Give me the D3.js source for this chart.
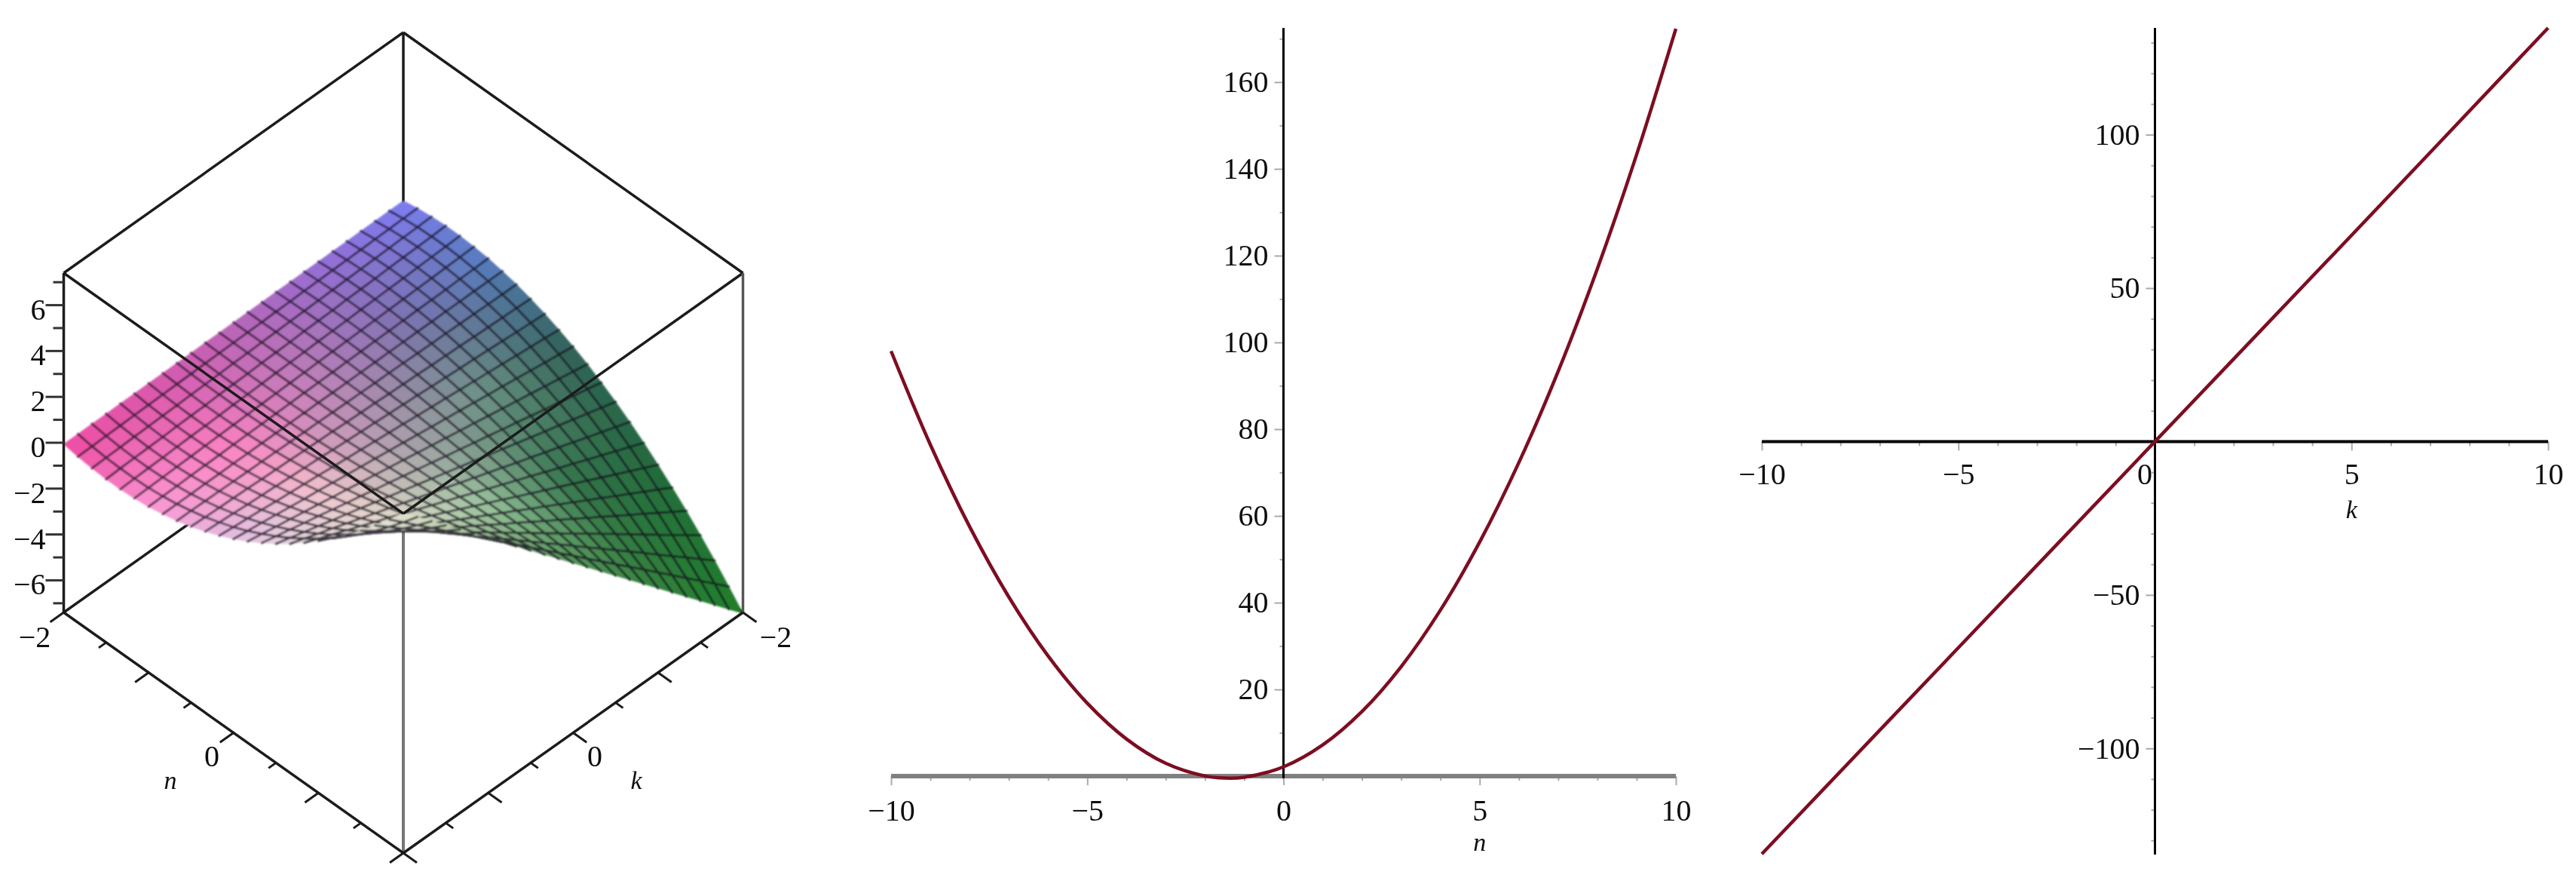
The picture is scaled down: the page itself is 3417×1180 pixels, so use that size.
<!DOCTYPE html>
<html><head><meta charset="utf-8">
<script src="https://cdnjs.cloudflare.com/ajax/libs/d3/7.8.5/d3.min.js"></script>
<style>html,body{margin:0;padding:0;background:#fff}svg{display:block}
text{font-family:"Liberation Serif","Times New Roman",serif;fill:#111}</style>
</head><body><svg id="c" width="3417" height="1180"></svg>
<script>
// ---------- data ----------
const meshN = [-2,-1.833,-1.667,-1.5,-1.333,-1.167,-1,-0.833,-0.667,-0.5,-0.333,-0.167,0,0.167,0.333,0.5,0.667,0.833,1,1.167,1.333,1.5,1.667,1.833,2];
const meshK = [-2,-1.833,-1.667,-1.5,-1.333,-1.167,-1,-0.833,-0.667,-0.5,-0.333,-0.167,0,0.167,0.333,0.5,0.667,0.833,1,1.167,1.333,1.5,1.667,1.833,2];
// surface height: one row per n, one column per k
const surfaceZ = [
[.06,.06,.05,.05,.04,.04,.03,.03,.02,.02,.01,.01,0,-.01,-.01,-.02,-.02,-.03,-.03,-.04,-.04,-.05,-.05,-.06,-.06],
[.17,.16,.14,.13,.11,.10,.09,.07,.06,.04,.03,.01,0,-.01,-.03,-.04,-.06,-.07,-.09,-.10,-.11,-.13,-.14,-.16,-.17],
[.24,.22,.20,.18,.16,.14,.12,.10,.08,.06,.04,.02,0,-.02,-.04,-.06,-.08,-.10,-.12,-.14,-.16,-.18,-.20,-.22,-.24],
[.28,.25,.23,.21,.19,.16,.14,.12,.09,.07,.05,.02,0,-.02,-.05,-.07,-.09,-.12,-.14,-.16,-.19,-.21,-.23,-.25,-.28],
[.28,.25,.23,.21,.18,.16,.14,.12,.09,.07,.05,.02,0,-.02,-.05,-.07,-.09,-.12,-.14,-.16,-.18,-.21,-.23,-.25,-.28],
[.24,.22,.20,.18,.16,.14,.12,.10,.08,.06,.04,.02,0,-.02,-.04,-.06,-.08,-.10,-.12,-.14,-.16,-.18,-.20,-.22,-.24],
[.17,.15,.14,.12,.11,.10,.08,.07,.06,.04,.03,.01,0,-.01,-.03,-.04,-.06,-.07,-.08,-.10,-.11,-.12,-.14,-.15,-.17],
[.05,.05,.05,.04,.04,.03,.03,.02,.02,.01,.01,0,0,0,-.01,-.01,-.02,-.02,-.03,-.03,-.04,-.04,-.05,-.05,-.05],
[-.09,-.09,-.08,-.07,-.06,-.05,-.05,-.04,-.03,-.02,-.02,-.01,0,.01,.02,.02,.03,.04,.05,.05,.06,.07,.08,.09,.09],
[-.28,-.25,-.23,-.21,-.19,-.16,-.14,-.12,-.09,-.07,-.05,-.02,0,.02,.05,.07,.09,.12,.14,.16,.19,.21,.23,.25,.28],
[-.50,-.46,-.42,-.37,-.33,-.29,-.25,-.21,-.17,-.12,-.08,-.04,0,.04,.08,.12,.17,.21,.25,.29,.33,.37,.42,.46,.50],
[-.76,-.69,-.63,-.57,-.50,-.44,-.38,-.32,-.25,-.19,-.13,-.06,0,.06,.13,.19,.25,.32,.38,.44,.50,.57,.63,.69,.76],
[-1.05,-.96,-.88,-.79,-.70,-.61,-.53,-.44,-.35,-.26,-.18,-.09,0,.09,.18,.26,.35,.44,.53,.61,.70,.79,.88,.96,1.05],
[-1.38,-1.27,-1.15,-1.04,-.92,-.81,-.69,-.58,-.46,-.35,-.23,-.12,0,.12,.23,.35,.46,.58,.69,.81,.92,1.04,1.15,1.27,1.38],
[-1.75,-1.60,-1.46,-1.31,-1.17,-1.02,-.87,-.73,-.58,-.44,-.29,-.15,0,.15,.29,.44,.58,.73,.87,1.02,1.17,1.31,1.46,1.60,1.75],
[-2.15,-1.97,-1.79,-1.61,-1.43,-1.26,-1.08,-.90,-.72,-.54,-.36,-.18,0,.18,.36,.54,.72,.90,1.08,1.26,1.43,1.61,1.79,1.97,2.15],
[-2.59,-2.38,-2.16,-1.95,-1.73,-1.51,-1.30,-1.08,-.87,-.65,-.43,-.22,0,.22,.43,.65,.87,1.08,1.30,1.51,1.73,1.95,2.16,2.38,2.59],
[-3.07,-2.81,-2.56,-2.30,-2.05,-1.79,-1.54,-1.28,-1.02,-.77,-.51,-.26,0,.26,.51,.77,1.02,1.28,1.54,1.79,2.05,2.30,2.56,2.81,3.07],
[-3.59,-3.29,-2.99,-2.69,-2.39,-2.09,-1.79,-1.49,-1.20,-.90,-.60,-.30,0,.30,.60,.90,1.20,1.49,1.79,2.09,2.39,2.69,2.99,3.29,3.59],
[-4.14,-3.79,-3.45,-3.10,-2.76,-2.41,-2.07,-1.72,-1.38,-1.03,-.69,-.34,0,.34,.69,1.03,1.38,1.72,2.07,2.41,2.76,3.10,3.45,3.79,4.14],
[-4.72,-4.33,-3.94,-3.54,-3.15,-2.76,-2.36,-1.97,-1.57,-1.18,-.79,-.39,0,.39,.79,1.18,1.57,1.97,2.36,2.76,3.15,3.54,3.94,4.33,4.72],
[-5.35,-4.90,-4.46,-4.01,-3.57,-3.12,-2.67,-2.23,-1.78,-1.34,-.89,-.45,0,.45,.89,1.34,1.78,2.23,2.67,3.12,3.57,4.01,4.46,4.90,5.35],
[-6.01,-5.51,-5.01,-4.51,-4.01,-3.50,-3.00,-2.50,-2.00,-1.50,-1.00,-.50,0,.50,1.00,1.50,2.00,2.50,3.00,3.50,4.01,4.51,5.01,5.51,6.01],
[-6.71,-6.15,-5.59,-5.03,-4.47,-3.91,-3.35,-2.79,-2.24,-1.68,-1.12,-.56,0,.56,1.12,1.68,2.24,2.79,3.35,3.91,4.47,5.03,5.59,6.15,6.71],
[-7.44,-6.82,-6.20,-5.58,-4.96,-4.34,-3.72,-3.10,-2.48,-1.86,-1.24,-.62,0,.62,1.24,1.86,2.48,3.10,3.72,4.34,4.96,5.58,6.20,6.82,7.44]
];
const zMajorTicks = [-6,-4,-2,0,2,4,6];
const zMinorTicks = [-7,-5,-3,-1,1,3,5,7];
const baseMajorTicks = [-2,-1,0,1,2];
const baseMinorTicks = [-1.5,-0.5,0.5,1.5];

const curveN = [-10,-9,-8,-7,-6,-5,-4,-3,-2,-1.5,-1,0,1,2,3,4,5,6,7,8,9,10];
const curveNValues = [98,76.44,57.55,41.32,27.74,16.82,8.57,2.97,0.04,-0.43,-0.24,2.15,7.2,14.9,25.27,38.29,53.98,72.32,93.32,117,143.32,172.3];
const curveK = [-10,-5,0,5,10];
const curveKValues = [-134.4,-67.2,0,67.2,134.8];

const xMajor = [-10,-5,0,5,10];
const xMinor = [-9,-8,-7,-6,-4,-3,-2,-1,1,2,3,4,6,7,8,9];
const nYMajor = [20,40,60,80,100,120,140,160];
const nYMinor = [10,30,50,70,90,110,130,150,170];
const kYMajor = [-100,-50,50,100];
const kYMinor = [-130,-120,-110,-90,-80,-70,-60,-40,-30,-20,-10,10,20,30,40,60,70,80,90,110,120,130];

// surface tint read at 5x5 places of the (n,k) square
const tintGrid = [
["#7d7df2","#966ed7","#b864b8","#d755aa","#ee4aa0"],
["#557dbe","#7d73af","#be82b9","#fa82c3","#fa96d2"],
["#2d5f55","#699182","#aaa0ac","#f0c3cd","#e1bee1"],
["#23693c","#32734a","#96c39b","#dcdcc8","#e6e1d7"],
["#1e7d28","#32823c","#509155","#96be8c","#e1e1cd"]];

// ---------- set-up ----------
const svg = d3.select("#c");
const defs = svg.append("defs");
const blur = (id,s) => defs.append("filter").attr("id",id).attr("filterUnits","userSpaceOnUse")
  .attr("x",0).attr("y",0).attr("width",3417).attr("height",1180)
  .append("feGaussianBlur").attr("stdDeviation",s);
blur("soft",0.7); blur("softer",0.8);
const root = svg.append("g").attr("filter","url(#soft)");
const FS = 40, FSI = 34;
const INK = "#1a1a1a", CURVE = "#7d0f20";

// ---------- panel 1: 3-D box ----------
const uOf = d3.scaleLinear([-2,2],[0,1]);
const vOf = d3.scaleLinear([-2,2],[0,1]);
const across = d3.scaleLinear([-1,1],[84.5,985.5]);   // u - v
const along  = d3.scaleLinear([0,2],[493,1131]);      // u + v
const lift   = d3.scaleLinear([-7.4,7.4],[0,450]);
const P = (n,k,z) => {
  const u = uOf(n), v = vOf(k);
  return [across(u-v), along(u+v) - lift(z)];
};
const Zb = -7.4, Zt = 7.4;
const seg = (g,a,b,col,w) => g.append("path").attr("d",d3.line()([a,b])).attr("fill","none")
  .attr("stroke",col).attr("stroke-width",w);

const p1 = root.append("g");
// parts the surface covers
seg(p1,P(-2,-2,Zt),P(-2,-2,Zb),INK,3.5);
seg(p1,P(-2,2,Zb),P(-2,-2,Zb),INK,3.5);
seg(p1,P(2,-2,Zb),P(-2,-2,Zb),INK,3.5);
seg(p1,P(-2,2,Zt),P(-2,-2,Zt),INK,3.5);
seg(p1,P(2,-2,Zt),P(-2,-2,Zt),INK,3.5);
seg(p1,P(2,2,Zb),P(2,2,Zt),"#777",4);

// surface, far cells first
const tintAt = (u,v) => {
  const a = Math.min(u*4,3.9999), b = Math.min(v*4,3.9999);
  const ia = Math.floor(a), ib = Math.floor(b), fa = a-ia, fb = b-ib;
  const top = d3.interpolateRgb(tintGrid[ia][ib],tintGrid[ia][ib+1])(fb);
  const bot = d3.interpolateRgb(tintGrid[ia+1][ib],tintGrid[ia+1][ib+1])(fb);
  return d3.interpolateRgb(top,bot)(fa);
};
const cells = [];
const lastN = meshN.length-1, lastK = meshK.length-1;
for (let i=0;i<lastN;i++) for (let j=0;j<lastK;j++) {
  const c = [[i,j],[i+1,j],[i+1,j+1],[i,j+1]];
  const pts = c.map(([a,b]) => P(meshN[a],meshK[b],surfaceZ[a][b]));
  const edges = [];                // the outline of the surface has no mesh line
  if (j>0) edges.push([pts[0],pts[1]]);
  if (i<lastN-1) edges.push([pts[1],pts[2]]);
  if (j<lastK-1) edges.push([pts[2],pts[3]]);
  if (i>0) edges.push([pts[3],pts[0]]);
  cells.push({pts,edges,depth:i+j,tint:tintAt((i+.5)/lastN,(j+.5)/lastK)});
}
cells.sort((a,b)=>a.depth-b.depth);
const cellG = p1.append("g").attr("filter","url(#softer)").selectAll("g").data(cells).join("g");
cellG.append("path").attr("d",d=>d3.line()(d.pts)+"Z").attr("fill",d=>d.tint)
  .attr("stroke",d=>d.tint).attr("stroke-width",0.8);
cellG.append("path").attr("d",d=>d.edges.map(e=>d3.line()(e)).join(""))
  .attr("fill","none")
  .attr("stroke",d=>d3.interpolateRgb(d.tint,"#140c1e")(0.78))
  .attr("stroke-width",2.6).attr("stroke-linecap","round");

// box lines in front of the surface
seg(p1,P(-2,2,Zt),P(2,2,Zt),INK,3.5);
seg(p1,P(2,-2,Zt),P(2,2,Zt),INK,3.5);
seg(p1,P(-2,2,Zb),P(-2,2,Zt),INK,3.5);
seg(p1,P(2,-2,Zb),P(2,-2,Zt),"#555",3.5);
seg(p1,P(-2,2,Zb),P(2,2,Zb),INK,3.5);
seg(p1,P(2,-2,Zb),P(2,2,Zb),INK,3.5);

// z ticks
const zAt = z => P(-2,2,z);
const tickZ = (vals,len,w) => vals.forEach(z=>{const q=zAt(z);seg(p1,[q[0]-len,q[1]],q,"#333",w);});
tickZ(zMajorTicks,24,3); tickZ(zMinorTicks,14,3);
p1.append("g").selectAll("text").data(zMajorTicks).join("text")
  .attr("x",zAt(0)[0]-24).attr("y",d=>zAt(d)[1]+19).attr("text-anchor","end")
  .attr("font-size",FS).text(d=>d3.format("")(d));

// base ticks: n ticks lean along k, k ticks lean along n
const lean = 22/Math.hypot(451,320);
const tickN = (vals,f) => vals.forEach(n=>{
  const a=P(n,2,Zb), b=[a[0]-451*lean*f,a[1]+320*lean*f]; seg(p1,a,b,INK,3);});
const tickK = (vals,f) => vals.forEach(k=>{
  const a=P(2,k,Zb), b=[a[0]+451*lean*f,a[1]+320*lean*f]; seg(p1,a,b,INK,3);});
tickN(baseMajorTicks,1); tickN(baseMinorTicks,.55);
tickK(baseMajorTicks,1); tickK(baseMinorTicks,.55);

const label3 = (x,y,t,it) => p1.append("text").attr("x",x).attr("y",y).attr("text-anchor","middle")
  .attr("font-size",it?FSI:FS).attr("font-style",it?"italic":null).text(t);
label3(46,858,"\u22122"); label3(1029,858,"\u22122");
label3(281,1016,"0");     label3(789,1016,"0");
label3(226,1046,"n",1);   label3(844,1046,"k",1);

// ---------- 2-D panels ----------
function panel(opt){
  const g = root.append("g");
  const x = d3.scaleLinear([-10,10],opt.xr), y = d3.scaleLinear(opt.yd,opt.yr);
  const ax = g.append("g").attr("transform",`translate(0,${y(0)})`);
  ax.call(d3.axisBottom(x).tickValues(xMinor).tickSize(6).tickFormat(""));
  const axM = g.append("g").attr("transform",`translate(0,${y(0)})`);
  axM.call(d3.axisBottom(x).tickValues(xMajor).tickSize(12).tickPadding(opt.xpad).tickFormat(d3.format("")));
  const ay = g.append("g").attr("transform",`translate(${x(0)},0)`);
  ay.call(d3.axisLeft(y).tickValues(opt.yMinor).tickSize(5).tickFormat(""));
  const ayM = g.append("g").attr("transform",`translate(${x(0)},0)`);
  ayM.call(d3.axisLeft(y).tickValues(opt.yMajor).tickSize(12).tickPadding(8).tickFormat(d3.format("")));
  [ax,axM,ay,ayM].forEach(a=>{
    a.selectAll(".tick line").attr("stroke","#aaaaaa").attr("stroke-width",2);
    a.selectAll("text").attr("font-size",FS).attr("font-family",'"Liberation Serif",serif').attr("fill","#111");
    a.selectAll(".domain").attr("stroke","none");
  });
  ay.selectAll("text").remove(); ax.selectAll("text").remove();
  if(opt.shiftZero) axM.selectAll(".tick").filter(d=>d===0).select("text").attr("text-anchor","end").attr("x",-4);
  // axis bars
  g.append("path").attr("d",d3.line()([[x(-10),y(0)],[x(10),y(0)]])).attr("stroke",opt.barCol).attr("stroke-width",opt.barW);
  const curve = d3.line().x(d=>x(d[0])).y(d=>y(d[1])).curve(d3.curveCatmullRom.alpha(.5));
  g.append("path").attr("d",d3.line()([[x(0),opt.yr[1]],[x(0),opt.yr[0]]])).attr("stroke","#000").attr("stroke-width",3);
  g.append("path").attr("d",curve(d3.zip(opt.cx,opt.cy))).attr("fill","none").attr("stroke",CURVE).attr("stroke-width",4.5);
  g.append("text").attr("x",x(5)).attr("y",opt.titleY).attr("text-anchor","middle")
    .attr("font-size",FSI).attr("font-style","italic").text(opt.title);
}
panel({xr:[1182,2223],yd:[-0.5,172.5],yr:[1032,37],cx:curveN,cy:curveNValues,
  yMajor:nYMajor,yMinor:nYMinor,barCol:"#808080",barW:6,title:"n",titleY:1128,xpad:18});
panel({xr:[2337,3380],yd:[-134.6,134.8],yr:[1133,37],cx:curveK,cy:curveKValues,
  yMajor:kYMajor,yMinor:kYMinor,barCol:"#000",barW:4,title:"k",titleY:687,xpad:16,shiftZero:true});
</script></body></html>
